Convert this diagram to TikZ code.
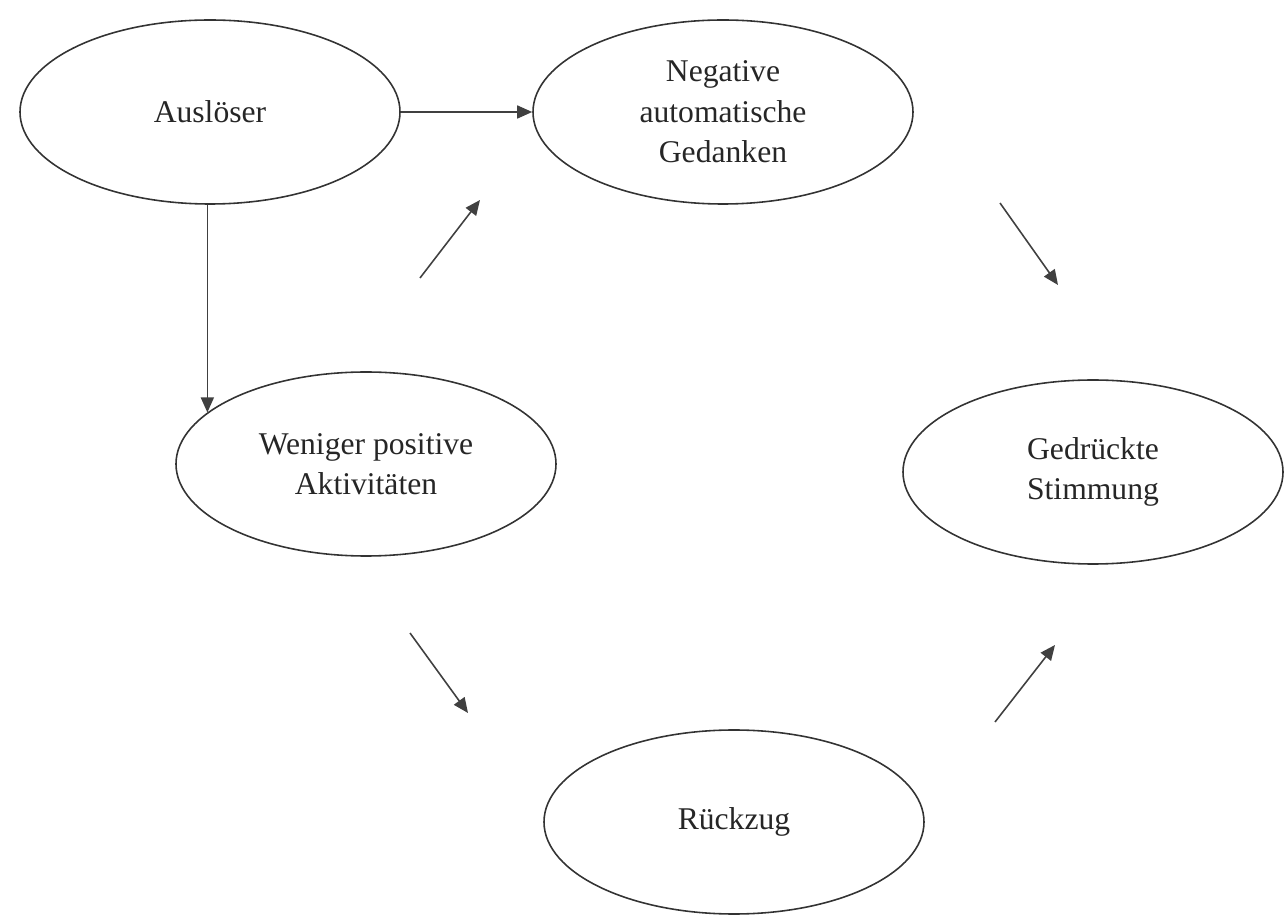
\documentclass[tikz,border=0pt]{standalone}
\usepackage{fontspec}
\setmainfont{Liberation Serif}
\usetikzlibrary{arrows.meta,calc,shapes.geometric}
\newcommand{\FreeArrow}[2]{\draw[pfeil] (#1) -- (#2);}

\begin{document}
\begin{tikzpicture}[
  blase/.style={ellipse,draw=black!80,line width=0.9pt,minimum width=7.6cm,minimum height=3.68cm,inner sep=0pt,align=center,text=black!85,font=\fontsize{18}{23}\selectfont},
  pfeil/.style={draw=black!75,line width=0.9pt,-{Triangle[length=0.3cm,width=0.26cm]}}]
\useasboundingbox (0,0) rectangle (25.68,-18.34);

\node[blase] (ausl) at (4.2,-2.24) {Auslöser};
\node[blase] (neg) at (14.46,-2.24) {Negative\\automatische\\Gedanken};
\node[blase] (wenig) at (7.32,-9.28) {Weniger positive\\Aktivitäten};
\node[blase] (stimm) at (21.86,-9.44) {Gedrückte\\Stimmung};
\node[blase] (rueck) at (14.68,-16.44) {Rückzug};

% loose arrows of the circle
\coordinate (p1) at (8.4,-5.56);   \coordinate (q1) at (9.6,-4.0);
\coordinate (p2) at (20.0,-4.06);  \coordinate (q2) at (21.16,-5.7);
\coordinate (p3) at (8.2,-12.66);  \coordinate (q3) at (9.36,-14.26);
\coordinate (p4) at (19.9,-14.44); \coordinate (q4) at (21.1,-12.9);

\draw[pfeil] (ausl) -- (neg);
\draw[pfeil] (wenig.162 |- ausl.south) -- (wenig.162);
\FreeArrow{p1}{q1}
\FreeArrow{p2}{q2}
\FreeArrow{p3}{q3}
\FreeArrow{p4}{q4}
\end{tikzpicture}
\end{document}
